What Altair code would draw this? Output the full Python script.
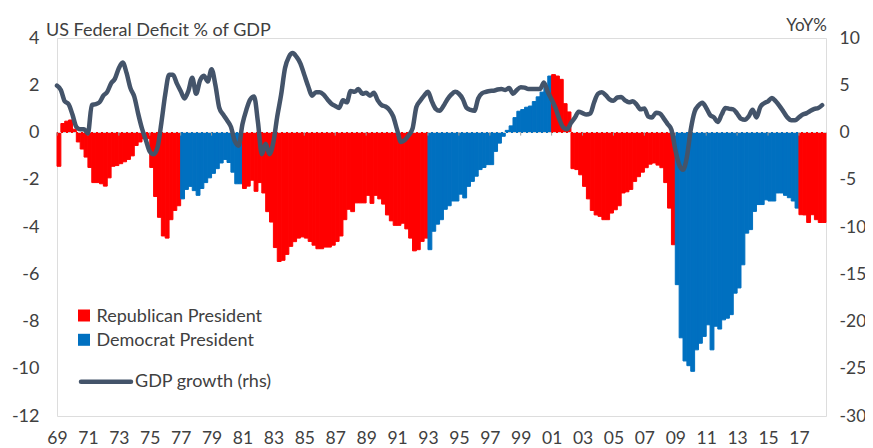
import altair as alt
import pandas as pd

START_YEAR = 1969

# Federal balance, % of GDP (quarterly, 1969Q1 - 2018Q3)
deficit = [
    -1.43, 0.38, 0.48, 0.53,
    0.14, -0.40, -0.70, -1.04,
    -1.48, -2.12, -2.12, -2.17,
    -2.27, -1.92, -1.43, -1.40,
    -1.32, -1.24, -1.14, -0.99,
    -0.55, -0.40, -0.26, -0.26,
    -1.48, -2.71, -3.59, -4.38,
    -4.47, -3.69, -3.30, -3.10,
    -2.81, -2.41, -2.28, -2.46,
    -2.66, -2.37, -2.12, -1.92,
    -1.73, -1.53, -1.29, -1.14,
    -1.27, -1.68, -2.17, -2.17,
    -2.37, -2.27, -2.02, -2.49,
    -2.12, -2.56, -3.35, -3.79,
    -4.87, -5.46, -5.41, -5.16,
    -4.82, -4.62, -4.47, -4.42,
    -4.47, -4.61, -4.77, -4.92,
    -4.92, -4.85, -4.85, -4.77,
    -4.61, -4.38, -3.69, -3.25,
    -3.35, -2.98, -2.98, -2.98,
    -2.66, -3.00, -2.66, -2.81,
    -3.03, -3.49, -3.74, -3.93,
    -3.93, -3.84, -4.08, -4.47,
    -5.01, -4.96, -4.61, -4.47,
    -4.96, -4.18, -3.88, -3.69,
    -3.25, -3.10, -2.90, -2.90,
    -2.61, -2.77, -2.28, -2.07,
    -1.85, -1.57, -1.48, -1.36,
    -1.36, -0.80, -0.45, -0.16,
    0.09, 0.28, 0.63, 0.90,
    0.97, 1.07, 1.12, 1.31,
    1.51, 1.71, 2.00, 2.39,
    2.45, 2.39, 2.25, 1.22,
    0.87, -1.53, -1.57, -1.79,
    -2.28, -2.81, -3.30, -3.49,
    -3.55, -3.69, -3.69, -3.41,
    -3.27, -3.10, -2.56, -2.51,
    -2.41, -2.07, -1.87, -1.68,
    -1.49, -1.34, -1.29, -1.38,
    -1.49, -2.12, -3.20, -4.75,
    -6.44, -8.69, -9.67, -9.87,
    -10.11, -9.20, -8.92, -8.63,
    -8.14, -9.20, -8.20, -8.32,
    -7.93, -7.86, -7.71, -6.80,
    -6.58, -5.60, -4.26, -4.11,
    -3.34, -3.05, -3.05, -2.85,
    -2.90, -2.90, -2.56, -2.56,
    -2.66, -2.76, -2.90, -3.20,
    -3.48, -3.49, -3.81, -3.48,
    -3.69, -3.81, -3.81,
]

# Real GDP growth, YoY % (rhs)
gdp = [
    4.96, 4.5, 3.3, 3.0,
    1.9, 0.6, 0.35, 0.35,
    -0.1, 2.9, 3.0, 3.2,
    3.9, 4.3, 5.2, 5.7,
    6.8, 7.4, 6.3, 4.7,
    3.8, 2.0, 0.4, -0.8,
    -2.0, -2.3, -1.6, 1.0,
    4.0, 6.1, 6.1, 5.2,
    4.4, 3.6, 4.4, 5.8,
    4.1, 5.5, 6.0, 5.4,
    6.7, 5.0, 2.6, 1.9,
    1.3, 0.6, -0.9, -1.4,
    0.9, 2.4, 3.5, 3.8,
    1.1, -2.3, -1.2, -2.3,
    -1.0, 1.7, 4.0, 6.8,
    8.0, 8.4, 8.0, 7.3,
    6.1, 4.9, 3.9, 4.25,
    4.25, 4.0, 3.5, 3.05,
    2.8, 2.6, 3.4, 3.2,
    4.4, 4.3, 4.6, 4.1,
    4.2, 3.9, 4.2, 3.4,
    2.9, 2.75, 2.4, 1.7,
    0.3, -1.0, -0.8, -0.3,
    0.4, 2.7, 3.35, 3.9,
    4.3, 3.3, 2.5, 2.3,
    2.8, 3.5, 4.0, 4.3,
    4.1, 3.55, 2.6, 2.4,
    2.3, 3.6, 4.15, 4.3,
    4.4, 4.42, 4.55, 4.6,
    4.5, 4.7, 4.1, 4.5,
    4.8, 4.75, 4.6, 4.6,
    4.6, 4.6, 5.3, 4.3,
    3.5, 2.6, 1.4, 0.55,
    0.35, 1.0, 1.55, 2.2,
    2.05, 1.9, 2.0, 3.2,
    4.1, 4.25, 3.95, 3.5,
    3.35, 3.7, 3.75, 3.4,
    3.2, 3.3, 2.95, 2.45,
    2.55, 1.7, 1.6, 2.1,
    2.0, 1.5, 0.9, 0.3,
    -1.8, -3.4, -3.95, -2.6,
    0.3, 2.2, 2.85, 3.15,
    2.6, 1.85, 1.6, 1.1,
    1.9, 2.6, 2.5, 2.45,
    2.0, 1.45, 1.35, 1.7,
    2.4, 1.6, 2.7, 3.1,
    3.3, 3.65, 3.3, 2.8,
    2.2, 1.6, 1.3, 1.3,
    1.6, 1.9, 2.05, 2.3,
    2.5, 2.6, 2.9,
]

# Presidential terms (first year in office) and party
term_start = [1969, 1977, 1981, 1993, 2001, 2009, 2017]
term_party = ["Republican President", "Democrat President", "Republican President",
              "Democrat President", "Republican President", "Democrat President",
              "Republican President"]

parties = ["Republican President", "Democrat President"]
party_colors = ["#FF0000", "#0070C0"]
line_color = "#44546A"
text_color = "#404040"
FONT = "Lato"

x_ticks = list(range(1969, 2018, 2))
left_ticks = list(range(-12, 5, 2))
right_ticks = list(range(-30, 11, 5))

rows = []
for i, (d, g) in enumerate(zip(deficit, gdp)):
    t = START_YEAR + i / 4
    party = term_party[0]
    for s, p in zip(term_start, term_party):
        if int(t) >= s:
            party = p
    rows.append({"t": t, "t2": t + 0.25, "deficit": d, "gdp": g, "party": party})
df = pd.DataFrame(rows)

xscale = alt.Scale(domain=[1969, 2018.75], nice=False, zero=False)
left_scale = alt.Scale(domain=[-12, 4], nice=False, zero=False)
color_scale = alt.Scale(domain=parties, range=party_colors)


def x_axis():
    return alt.Axis(values=x_ticks, title=None, grid=False, domain=False,
                    ticks=False, tickSize=0, labelPadding=13,
                    labelFlush=False, labelOverlap=False, labelBound=False,
                    labelFontSize=17.5, labelFont=FONT, labelColor=text_color,
                    labelExpr="(datum.value % 100 < 10 ? '0' : '') + (datum.value % 100)")


def left_axis():
    return alt.Axis(values=left_ticks, title=None, grid=False, domain=False,
                    ticks=False, tickSize=0, labelPadding=18,
                    labelFlush=False, labelOverlap=False,
                    labelExpr="'' + datum.value",
                    labelFontSize=18, labelFont=FONT, labelColor=text_color)


bars = alt.Chart(df).mark_bar(strokeWidth=1.0).encode(
    x=alt.X("t:Q", scale=xscale, axis=x_axis()),
    x2="t2:Q",
    y=alt.Y("deficit:Q", scale=left_scale, axis=left_axis()),
    y2=alt.datum(0),
    color=alt.Color("party:N", scale=color_scale, legend=None),
    stroke=alt.Stroke("party:N", scale=color_scale, legend=None),
)

zero_df = pd.DataFrame({"y": [0]})
zero_line = alt.Chart(zero_df).mark_rule(color="#D0D0D0", strokeWidth=1,
                                         strokeDash=[3, 2]).encode(
    y=alt.Y("y:Q", scale=left_scale, axis=left_axis()))

tick_df = pd.DataFrame({"x": x_ticks, "y": [0] * len(x_ticks), "y2": [-0.13] * len(x_ticks)})
zero_ticks = alt.Chart(tick_df).mark_rule(color="#9A9A9A", strokeWidth=1).encode(
    x=alt.X("x:Q", scale=xscale, axis=x_axis()),
    y=alt.Y("y:Q", scale=left_scale, axis=left_axis()), y2="y2:Q")

left = alt.layer(bars, zero_line, zero_ticks)

line = alt.Chart(df).mark_line(color=line_color, strokeWidth=4.5, interpolate="monotone",
                               strokeCap="round", strokeJoin="round").encode(
    x=alt.X("t:Q", scale=xscale, axis=x_axis()),
    y=alt.Y("gdp:Q", scale=alt.Scale(domain=[-30, 10], nice=False, zero=False),
            axis=alt.Axis(orient="right", values=right_ticks, title=None, grid=False,
                          domain=False, ticks=False, tickSize=0, labelPadding=13,
                          labelFlush=False, labelOverlap=False,
                          labelExpr="'' + datum.value",
                          labelFontSize=17.5, labelFont=FONT, labelColor=text_color)),
)

one = pd.DataFrame({"a": [0]})


def label(txt, x, y, size=18, align="left"):
    return alt.Chart(one).mark_text(align=align, baseline="alphabetic", font=FONT,
                                    fontSize=size, color=text_color).encode(
        x=alt.value(x), y=alt.value(y), text=alt.value(txt))


title = label("US Federal Deficit % of GDP", -11, -2, 18)
yoy = label("YoY%", 770, -7, 17, align="right")

sq_rep = alt.Chart(one).mark_square(size=144, color=party_colors[0], opacity=1).encode(
    x=alt.value(27), y=alt.value(277.5))
sq_dem = alt.Chart(one).mark_square(size=144, color=party_colors[1], opacity=1).encode(
    x=alt.value(27), y=alt.value(301.8))
lg_line = alt.Chart(one).mark_rule(color=line_color, strokeWidth=4.5, strokeCap="round").encode(
    x=alt.value(24), x2=alt.value(74), y=alt.value(343.7))
t_rep = label("Republican President", 39.5, 283.7)
t_dem = label("Democrat President", 39.5, 308)
t_gdp = label("GDP growth (rhs)", 78, 348.7)

chart = alt.layer(
    left, line, title, yoy, sq_rep, sq_dem, lg_line, t_rep, t_dem, t_gdp
).resolve_scale(
    y="independent"
).properties(
    width=769, height=378,
    autosize=alt.AutoSizeParams(type="none"),
    padding={"left": 49, "top": 30, "right": 39, "bottom": 30},
).configure_view(strokeWidth=0).configure(background="white")

chart.save("out.html", embed_options={"renderer": "svg", "actions": False})
